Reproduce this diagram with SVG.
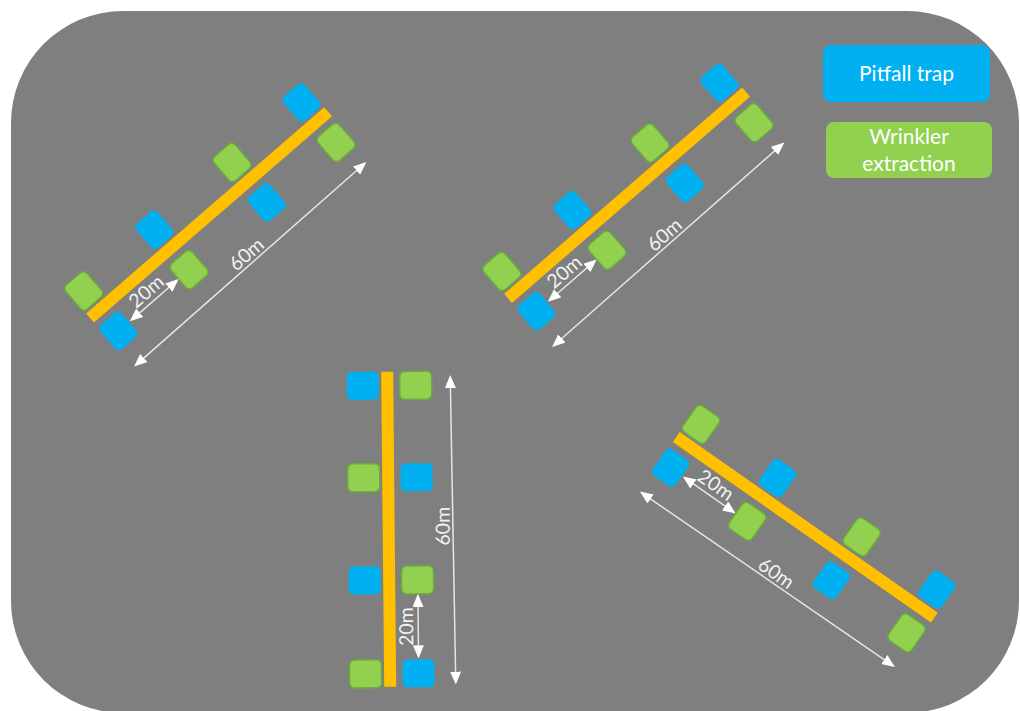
<svg xmlns="http://www.w3.org/2000/svg" width="1020" height="711" viewBox="0 0 1020 711">
<style>
.bar{fill:#ffc000}
.pt{fill:#00b0f0}
.we{fill:#92d050;stroke:#6aab3c;stroke-width:1.5}
.dim{stroke:#e6e6e6;stroke-width:1.5;fill:none;marker-start:url(#ah);marker-end:url(#ah)}
.lbl{font-family:Lato,"Open Sans","Liberation Sans",sans-serif;font-size:19.5px;fill:#f2f2f2;text-anchor:middle}
.leg{font-family:Lato,"Open Sans","Liberation Sans",sans-serif;font-size:21px;fill:#ffffff;text-anchor:middle}
</style>
<defs>
<marker id="ah" viewBox="0 0 13 11" refX="10" refY="5.5" markerWidth="13" markerHeight="11" markerUnits="userSpaceOnUse" orient="auto-start-reverse">
<path d="M0,0 L13,5.5 L0,11 z" fill="#ffffff"/>
</marker>
</defs>
<rect x="0" y="0" width="1020" height="711" fill="#ffffff"/>
<rect id="field" x="11" y="11" width="1008" height="702" rx="112" ry="112" fill="#7f7f7f"/>

<g id="transect-top-left" transform="translate(90,318) rotate(-40.9)">
<rect class="bar" x="0" y="-6" width="315" height="12"/>
<rect class="pt" x="-1" y="12.4" width="28" height="32" rx="5"/>
<rect class="we" x="92.5" y="12.4" width="28" height="32" rx="5"/>
<rect class="pt" x="195.2" y="12.4" width="28" height="32" rx="5"/>
<rect class="we" x="287" y="12.4" width="28" height="32" rx="5"/>
<rect class="we" x="-1" y="-40.5" width="28" height="32" rx="5"/>
<rect class="pt" x="92.5" y="-40.5" width="28" height="32" rx="5"/>
<rect class="we" x="195.2" y="-40.5" width="28" height="32" rx="5"/>
<rect class="pt" x="287" y="-40.5" width="28" height="32" rx="5"/>
</g>

<g id="transect-top-right" transform="translate(508,298.4) rotate(-40.9)">
<rect class="bar" x="0" y="-6" width="315" height="12"/>
<rect class="pt" x="-1" y="12.4" width="28" height="32" rx="5"/>
<rect class="we" x="92.5" y="12.4" width="28" height="32" rx="5"/>
<rect class="pt" x="195.2" y="12.4" width="28" height="32" rx="5"/>
<rect class="we" x="287" y="12.4" width="28" height="32" rx="5"/>
<rect class="we" x="-1" y="-40.5" width="28" height="32" rx="5"/>
<rect class="pt" x="92.5" y="-40.5" width="28" height="32" rx="5"/>
<rect class="we" x="195.2" y="-40.5" width="28" height="32" rx="5"/>
<rect class="pt" x="287" y="-40.5" width="28" height="32" rx="5"/>
</g>

<g id="transect-bottom-center" transform="translate(390.2,686.7) rotate(-90.55)">
<rect class="bar" x="0" y="-6" width="315" height="12"/>
<rect class="pt" x="-1" y="12.4" width="28" height="32" rx="5"/>
<rect class="we" x="92.5" y="12.4" width="28" height="32" rx="5"/>
<rect class="pt" x="195.2" y="12.4" width="28" height="32" rx="5"/>
<rect class="we" x="287" y="12.4" width="28" height="32" rx="5"/>
<rect class="we" x="-1" y="-40.5" width="28" height="32" rx="5"/>
<rect class="pt" x="92.5" y="-40.5" width="28" height="32" rx="5"/>
<rect class="we" x="195.2" y="-40.5" width="28" height="32" rx="5"/>
<rect class="pt" x="287" y="-40.5" width="28" height="32" rx="5"/>
</g>

<g id="transect-bottom-right" transform="translate(676.3,437) rotate(35)">
<rect class="bar" x="0" y="-6" width="315" height="12"/>
<rect class="pt" x="-1" y="12.4" width="28" height="32" rx="5"/>
<rect class="we" x="92.5" y="12.4" width="28" height="32" rx="5"/>
<rect class="pt" x="195.2" y="12.4" width="28" height="32" rx="5"/>
<rect class="we" x="287" y="12.4" width="28" height="32" rx="5"/>
<rect class="we" x="-1" y="-40.5" width="28" height="32" rx="5"/>
<rect class="pt" x="92.5" y="-40.5" width="28" height="32" rx="5"/>
<rect class="we" x="195.2" y="-40.5" width="28" height="32" rx="5"/>
<rect class="pt" x="287" y="-40.5" width="28" height="32" rx="5"/>
</g>

<g id="connectors">
<g transform="translate(90,318) rotate(-40.9)">
<line class="dim" x1="4.5" y1="65.6" x2="308" y2="63"/>
<line class="dim" x1="31" y1="28.6" x2="89.5" y2="28.6"/>
<text class="lbl" x="160" y="61">60m</text>
<text class="lbl" x="60" y="23.5">20m</text>
</g>
<g transform="translate(508,298.4) rotate(-40.9)">
<line class="dim" x1="4.5" y1="65.6" x2="308" y2="63"/>
<line class="dim" x1="31" y1="28.6" x2="89.5" y2="28.6"/>
<text class="lbl" x="160" y="61">60m</text>
<text class="lbl" x="60" y="23.5">20m</text>
</g>
<g transform="translate(390.2,686.7) rotate(-90.55)">
<line class="dim" x1="4.5" y1="65.6" x2="308" y2="63"/>
<line class="dim" x1="31" y1="28.6" x2="89.5" y2="28.6"/>
<text class="lbl" x="160" y="61">60m</text>
<text class="lbl" x="60" y="23.5">20m</text>
</g>
<g transform="translate(676.3,437) rotate(35)">
<line class="dim" x1="4.5" y1="65.6" x2="308" y2="63"/>
<line class="dim" x1="31" y1="28.6" x2="89.5" y2="28.6"/>
<text class="lbl" x="160" y="61">60m</text>
<text class="lbl" x="60" y="23.5">20m</text>
</g>
</g>

<g id="legend-pitfall">
<rect x="823" y="45" width="167" height="57" rx="8" fill="#00b0f0"/>
<text class="leg" x="906.5" y="80.5">Pitfall trap</text>
</g>
<g id="legend-wrinkler">
<rect x="826" y="122" width="166" height="56" rx="8" fill="#92d050"/>
<text class="leg" x="909" y="144">Wrinkler</text>
<text class="leg" x="909" y="170.5">extraction</text>
</g>
</svg>
